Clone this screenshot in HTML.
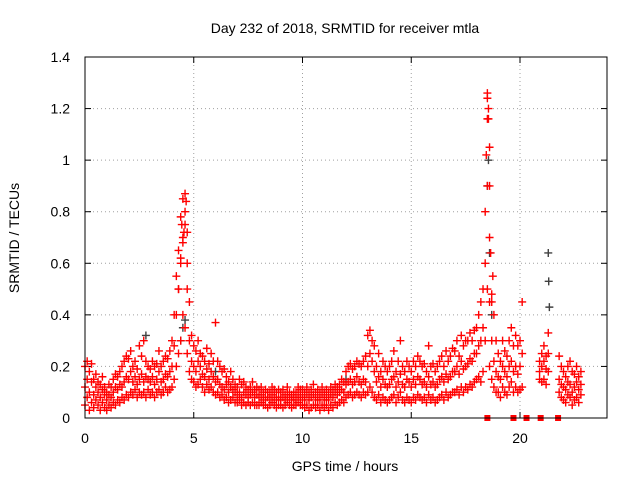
<!DOCTYPE html>
<html><head><meta charset="utf-8"><style>
body{margin:0;background:#fff}
svg text{font-family:"Liberation Sans",sans-serif;font-size:14px;fill:#000}
</style></head><body>
<svg id="chart" width="640" height="480" xmlns="http://www.w3.org/2000/svg">
<rect width="640" height="480" fill="#fff"/>
<text x="345" y="33" text-anchor="middle">Day 232 of 2018, SRMTID for receiver mtla</text>
<text x="345" y="471" text-anchor="middle">GPS time / hours</text>
<text transform="translate(19,238) rotate(-90)" text-anchor="middle">SRMTID / TECUs</text>
<g id="grid"></g>
<g id="marks"></g>
<rect x="85" y="57" width="522" height="361" fill="none" stroke="#000" stroke-width="1"/>
</svg>
<script>
const xTicks=[0,5,10,15,20];
const yTicks=[0,0.2,0.4,0.6,0.8,1,1.2,1.4];
const yTickLabels=["0","0.2","0.4","0.6","0.8","1","1.2","1.4"];
const tStart=0, tStep=0.1;
const srmtidLow=[.05,.08,.03,.06,.04,.07,.05,.03,.06,.04,
.03,.05,.04,.06,.05,.07,.06,.08,.07,.09,
.08,.1,.09,.11,.08,.1,.09,.1,.08,.11,
.09,.1,.08,.1,.11,.09,.1,.12,.1,.11,
.12,.15,.2,.25,.3,.4,.35,.25,.18,.15,
.14,.12,.13,.15,.12,.1,.13,.11,.12,.1,
.09,.1,.08,.09,.07,.08,.06,.07,.08,.06,
.06,.07,.05,.06,.05,.06,.05,.06,.05,.05,
.05,.06,.05,.05,.04,.05,.06,.05,.04,.05,
.05,.04,.05,.06,.05,.04,.05,.05,.06,.05,
.05,.04,.05,.03,.04,.05,.04,.05,.03,.05,
.04,.05,.03,.05,.04,.06,.05,.06,.07,.06,
.08,.09,.1,.08,.09,.1,.09,.08,.1,.09,
.1,.12,.1,.08,.07,.09,.06,.08,.07,.06,
.07,.08,.09,.06,.08,.1,.07,.06,.08,.07,
.06,.08,.07,.09,.08,.07,.08,.06,.09,.07,
.08,.06,.07,.08,.09,.07,.1,.08,.09,.1,
.1,.11,.09,.12,.1,.12,.11,.13,.12,.14,
.15,.16,.14,.18,.3,.5,.2,.15,.12,.1,
.1,.08,.12,.1,.09,.12,.14,.1,.12,.1,
.11,.12,null,null,null,null,null,null,null,.15,
.14,.15,.13,.18,null,null,null,null,.1,.08,
.07,.06,.09,.08,.05,.07,.08,.06,.09];
const srmtidMid=[.12,.15,.1,.14,.09,.12,.1,.08,.11,.09,
.07,.09,.08,.1,.12,.11,.13,.12,.14,.16,
.15,.18,.14,.16,.13,.15,.17,.14,.16,.15,
.14,.16,.13,.15,.18,.14,.15,.17,.16,.18,
.2,.28,.4,.5,.6,.7,.75,.5,.3,.22,
.2,.18,.22,.2,.17,.16,.19,.15,.18,.16,
.14,.15,.13,.12,.11,.13,.1,.12,.11,.1,
.09,.1,.08,.1,.09,.08,.09,.1,.08,.09,
.08,.09,.07,.08,.08,.07,.09,.08,.07,.08,
.07,.08,.07,.09,.08,.07,.08,.07,.09,.08,
.08,.07,.09,.07,.08,.09,.07,.08,.07,.09,
.07,.08,.07,.09,.08,.1,.09,.1,.11,.1,
.13,.14,.15,.13,.14,.16,.14,.13,.15,.14,
.2,.25,.22,.18,.14,.16,.12,.15,.13,.12,
.13,.15,.16,.12,.14,.17,.13,.12,.15,.14,
.12,.15,.13,.16,.15,.13,.14,.12,.16,.13,
.14,.12,.13,.15,.16,.14,.17,.15,.16,.18,
.18,.2,.17,.22,.19,.2,.21,.23,.22,.25,
.25,.28,.3,.35,.6,.9,.45,.3,.22,.18,
.16,.15,.2,.18,.16,.2,.22,.18,.2,.17,
.2,.25,null,null,null,null,null,null,null,.18,
.2,.22,.19,.25,null,null,null,null,.15,.13,
.12,.11,.14,.13,.1,.12,.14,.11,.13];
const srmtidHigh=[.2,.22,.18,.21,.15,.17,.14,.13,.16,.12,
.1,.13,.12,.15,.17,.16,.18,.2,.22,.24,
.23,.26,.2,.22,.19,.28,.24,.3,.22,.2,
.19,.22,.2,.21,.26,.2,.22,.24,.23,.26,
.3,.4,.55,.65,.78,.85,.87,.72,.45,.32,
.28,.26,.3,.25,.24,.22,.27,.21,.25,.22,
.37,.22,.2,.18,.19,.16,.14,.18,.15,.13,
.12,.15,.13,.14,.12,.11,.12,.14,.11,.12,
.11,.12,.1,.11,.1,.1,.12,.11,.1,.11,
.1,.11,.09,.12,.1,.09,.1,.1,.12,.11,
.11,.1,.12,.1,.11,.13,.1,.11,.1,.12,
.1,.11,.1,.12,.11,.13,.12,.13,.15,.14,
.18,.2,.21,.19,.2,.22,.21,.2,.22,.24,
.32,.34,.3,.28,.2,.25,.18,.22,.2,.18,
.2,.22,.26,.18,.22,.3,.2,.18,.22,.2,
.18,.22,.2,.24,.22,.2,.21,.18,.28,.2,
.21,.18,.2,.22,.24,.2,.26,.22,.24,.27,
.26,.3,.24,.32,.28,.3,.3,.33,.3,.34,
.35,.4,.45,.5,.8,1.26,.7,.45,.4,.3,
.25,.22,.3,.26,.24,.3,.35,.28,.32,.28,
.3,.45,null,null,null,null,null,null,null,.22,
.25,.28,.24,.33,null,null,null,null,.24,.2,
.18,.16,.2,.22,.18,.17,.2,.16,.18];
const spikeTimes=[4.3,4.4,4.45,4.5,4.55,4.6,4.65,4.7,18.45,18.5,18.5,18.55,18.55,18.6,18.6,18.65,18.7,18.75];
const spikeValues=[0.5,0.62,0.75,0.68,0.72,0.8,0.84,0.6,1.02,1.16,1.24,1.2,1.16,1.05,0.9,0.64,0.48,0.55];
const grayTimes=[4.4,4.5,4.6,18.5,18.55,18.6,18.7,21.3,21.32,21.35,2.8,6.0,12.0];
const grayValues=[0.3,0.35,0.38,0.9,1.0,0.64,0.4,0.64,0.53,0.43,0.32,0.18,0.15];
const flagTimes=[18.5,19.7,20.3,20.95,21.75];

const X0=85,X1=607,Y0=418,Y1=57,XMAX=24,YMAX=1.4;
function xs(t){return X0+(X1-X0)*t/XMAX;}
function ys(v){return Y0-(Y0-Y1)*v/YMAX;}
const NS="http://www.w3.org/2000/svg";
const grid=document.getElementById('grid'), marks=document.getElementById('marks');
function mk(tag,attrs,parent){const e=document.createElementNS(NS,tag);for(const k in attrs)e.setAttribute(k,attrs[k]);parent.appendChild(e);return e;}
xTicks.forEach(t=>{
  const x=xs(t);
  if(t>0){const g=mk('line',{x1:x,x2:x,y1:Y0,y2:Y1,stroke:'#a0a0a0','stroke-dasharray':'1,3'},grid);
  
  }
  mk('line',{x1:x,x2:x,y1:Y0,y2:Y0-6,stroke:'#000'},grid);
  mk('line',{x1:x,x2:x,y1:Y1,y2:Y1+6,stroke:'#000'},grid);
  const lb=mk('text',{x:x,y:443,'text-anchor':'middle'},grid);lb.textContent=String(t);
  
  
});
yTicks.forEach((v,i)=>{
  const y=ys(v);
  if(v>0&&v<YMAX){const g=mk('line',{x1:X0,x2:X1,y1:y,y2:y,stroke:'#a0a0a0','stroke-dasharray':'1,3'},grid);
  
  }
  mk('line',{x1:X0,x2:X0+6,y1:y,y2:y,stroke:'#000'},grid);
  mk('line',{x1:X1,x2:X1-6,y1:y,y2:y,stroke:'#000'},grid);
  const lb=mk('text',{x:70,y:y+5,'text-anchor':'end'},grid);lb.textContent=yTickLabels[i];
  
  
});
function plus(t,v,color){
  const x=xs(t),y=ys(v);
  const p=mk('path',{d:`M${x-4} ${y}h8M${x} ${y-4}v8`,stroke:color,'stroke-width':1.4,fill:'none'},marks);
  
  
}
grayTimes.forEach((t,i)=>plus(t,grayValues[i],'#404040'));
[srmtidLow,srmtidMid,srmtidHigh].forEach(arr=>{
  arr.forEach((v,i)=>{if(v!==null)plus(tStart+i*tStep,v,'#ff0000');});
});
spikeTimes.forEach((t,i)=>plus(t,spikeValues[i],'#ff0000'));
flagTimes.forEach(t=>{
  const r=mk('rect',{x:xs(t)-3,y:Y0-3,width:6,height:6,fill:'#ff0000'},marks);
  
  
});
</script>
</body></html>
